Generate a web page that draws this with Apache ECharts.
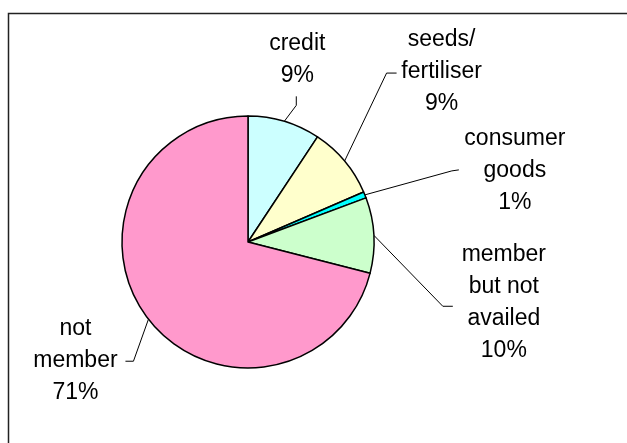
<!DOCTYPE html>
<html><head><meta charset="utf-8">
<script src="https://cdn.jsdelivr.net/npm/echarts@6/dist/echarts.min.js"></script>
<style>html,body{margin:0;padding:0;background:#fff}#c{width:627px;height:443px}</style>
</head><body><div id="c"></div>
<script>
const categories = ['credit', 'seeds/\nfertiliser', 'consumer\ngoods', 'member\nbut not\navailed', 'not\nmember'];
const shares = [9.3, 9.2, 0.8, 9.7, 71.0];
const sliceColors = ['#CCFFFF', '#FFFFCC', '#00FFFF', '#CCFFCC', '#FF99CC'];
// leader-line geometry, relative to each slice's edge point (style only)
const leaderBend = [[12, -16], [42, -88], [87, -24], [69, 71], [-15, 42]];
const leaderEnd = [[12, -25], [52, -88], [94, -25], [79, 71], [-23, 42]];
const labelAnchor = [[13, -30], [97, -89], [150, -24], [130, 67], [-73, 41]];
const labelVAlign = ['bottom', 'middle', 'middle', 'middle', 'middle'];

const chart = echarts.init(document.getElementById('c'), null, {renderer: 'canvas'});
chart.setOption({
  animation: false,
  backgroundColor: '#ffffff',
  graphic: [{
    type: 'rect', silent: true,
    shape: {x: 8.5, y: 13.5, width: 700, height: 500},
    style: {fill: 'none', stroke: '#222', lineWidth: 1.5}
  }],
  series: [{
    type: 'pie',
    center: [248, 242],
    radius: 126,
    startAngle: 90,
    clockwise: true,
    avoidLabelOverlap: false,
    silent: true,
    data: categories.map((n, i) => ({name: n, value: shares[i], itemStyle: {color: sliceColors[i]}})),
    itemStyle: {borderColor: '#000', borderWidth: 1.5},
    label: {
      show: true,
      position: 'outside',
      fontFamily: 'Liberation Sans, Arial, sans-serif',
      fontSize: 23,
      lineHeight: 32,
      color: '#000',
      formatter: p => p.name + '\n' + Math.round(p.percent) + '%'
    },
    labelLine: {show: true, length: 10, length2: 10, lineStyle: {color: '#000', width: 1}},
    labelLayout: function (p) {
      const i = p.dataIndex;
      const o = p.labelLinePoints[0];
      return {
        x: o[0] + labelAnchor[i][0],
        y: o[1] + labelAnchor[i][1],
        align: 'center',
        verticalAlign: labelVAlign[i],
        labelLinePoints: [
          [o[0], o[1]],
          [o[0] + leaderBend[i][0], o[1] + leaderBend[i][1]],
          [o[0] + leaderEnd[i][0], o[1] + leaderEnd[i][1]]
        ]
      };
    },
    emphasis: {disabled: true}
  }]
});
</script></body></html>
